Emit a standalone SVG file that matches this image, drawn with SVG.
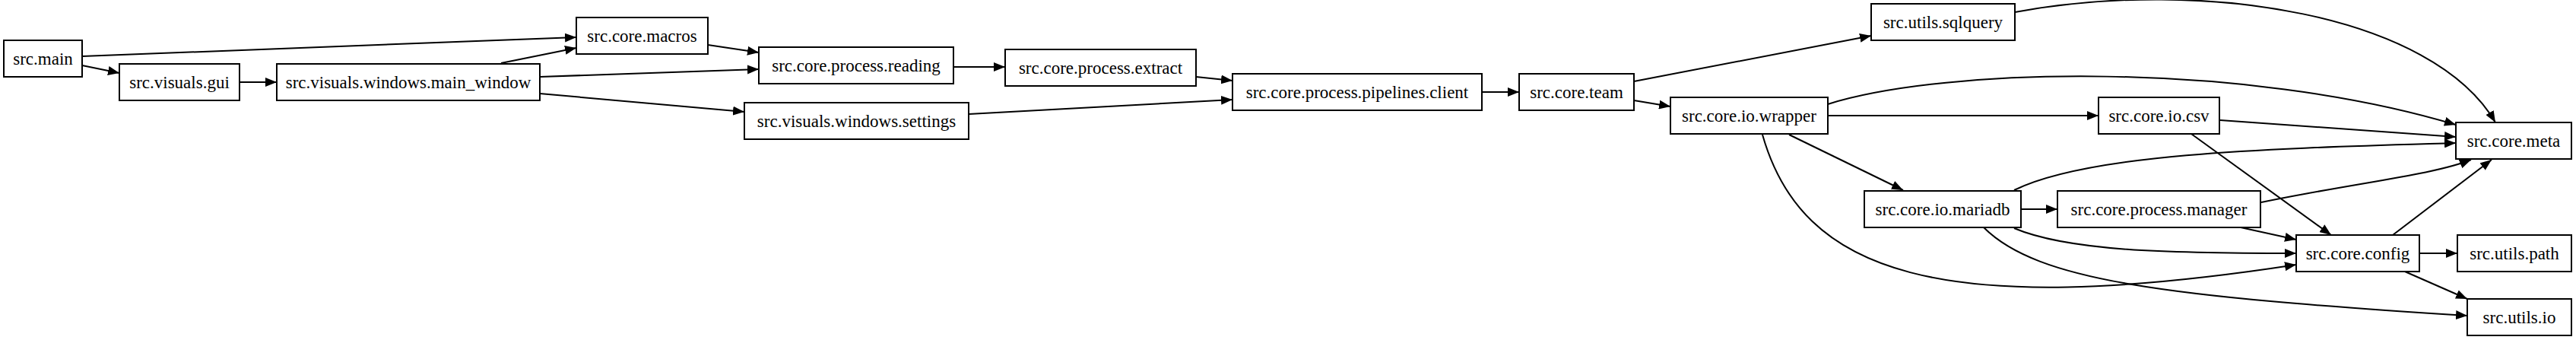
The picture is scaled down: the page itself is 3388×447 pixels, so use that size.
<svg xmlns="http://www.w3.org/2000/svg" width="3388" height="447" viewBox="0 0 3388 447">
<style>
rect{fill:#fff;stroke:#000;stroke-width:2}
text{font-family:"Liberation Serif",serif;font-size:23px;text-anchor:middle;dominant-baseline:central;fill:#000}
#edges path{fill:none;stroke:#000;stroke-width:2;marker-end:url(#ah)}
</style>
<defs><marker id="ah" markerUnits="userSpaceOnUse" markerWidth="16" markerHeight="12" refX="15" refY="6" orient="auto"><path d="M0,0L15,6L0,12z" fill="#000"/></marker></defs>
<rect width="3388" height="447" style="stroke:none"/>
<g id="edges">
<path d="M108,74L758,49"/>
<path d="M108,86L157,96"/>
<path d="M315,108L364,108"/>
<path d="M659,83L758,63"/>
<path d="M710,101L998,91"/>
<path d="M710,123L979,147"/>
<path d="M931,59L998,69"/>
<path d="M1254,88L1322,88"/>
<path d="M1573,101L1621,106"/>
<path d="M1274,150L1621,131"/>
<path d="M1949,121L1998,121"/>
<path d="M2149,107L2461,47"/>
<path d="M2149,132L2197,140"/>
<path d="M2404,137C2560,88 2950,80 3230,164"/>
<path d="M2404,152L2760,152"/>
<path d="M2353,177L2503,250"/>
<path d="M2318,177C2370,360 2550,420 3020,348"/>
<path d="M2650,16C2900,-30 3200,20 3282,161"/>
<path d="M2920,158L3230,180"/>
<path d="M2882,176L3066,309"/>
<path d="M2649,250C2750,200 3000,195 3230,188"/>
<path d="M2658,275L2706,275"/>
<path d="M2649,300C2720,330 2850,333 3020,333"/>
<path d="M2609,299C2680,370 2850,390 3245,415"/>
<path d="M2974,266C3100,240 3200,230 3250,210"/>
<path d="M2947,299L3020,315"/>
<path d="M3147,309L3277,210"/>
<path d="M3182,333L3232,333"/>
<path d="M3163,357L3245,393"/>
</g>
<g id="n_main"><rect x="5" y="53" width="103" height="48"/><text x="56.5" y="77">src.main</text></g>
<g id="n_gui"><rect x="157" y="84" width="158" height="48"/><text x="236" y="108">src.visuals.gui</text></g>
<g id="n_mainwin"><rect x="364" y="84" width="346" height="48"/><text x="537" y="108">src.visuals.windows.main_window</text></g>
<g id="n_macros"><rect x="758" y="23" width="173" height="48"/><text x="844.5" y="47">src.core.macros</text></g>
<g id="n_reading"><rect x="998" y="62" width="256" height="48"/><text x="1126" y="86">src.core.process.reading</text></g>
<g id="n_extract"><rect x="1322" y="65" width="251" height="48"/><text x="1447.5" y="89">src.core.process.extract</text></g>
<g id="n_settings"><rect x="979" y="135" width="295" height="48"/><text x="1126.5" y="159">src.visuals.windows.settings</text></g>
<g id="n_client"><rect x="1621" y="97" width="328" height="48"/><text x="1785" y="121">src.core.process.pipelines.client</text></g>
<g id="n_team"><rect x="1998" y="97" width="151" height="48"/><text x="2073.5" y="121">src.core.team</text></g>
<g id="n_wrapper"><rect x="2197" y="128" width="207" height="48"/><text x="2300.5" y="152">src.core.io.wrapper</text></g>
<g id="n_sqlquery"><rect x="2461" y="5" width="189" height="48"/><text x="2555.5" y="29">src.utils.sqlquery</text></g>
<g id="n_csv"><rect x="2760" y="128" width="159" height="48"/><text x="2839.5" y="152">src.core.io.csv</text></g>
<g id="n_meta"><rect x="3230" y="161" width="152" height="48"/><text x="3306" y="185">src.core.meta</text></g>
<g id="n_mariadb"><rect x="2452" y="251" width="206" height="48"/><text x="2555" y="275">src.core.io.mariadb</text></g>
<g id="n_manager"><rect x="2706" y="251" width="267" height="48"/><text x="2839.5" y="275">src.core.process.manager</text></g>
<g id="n_config"><rect x="3020" y="309" width="162" height="48"/><text x="3101" y="333">src.core.config</text></g>
<g id="n_path"><rect x="3232" y="309" width="150" height="48"/><text x="3307" y="333">src.utils.path</text></g>
<g id="n_io"><rect x="3245" y="393" width="137" height="48"/><text x="3313.5" y="417">src.utils.io</text></g>
</svg>
